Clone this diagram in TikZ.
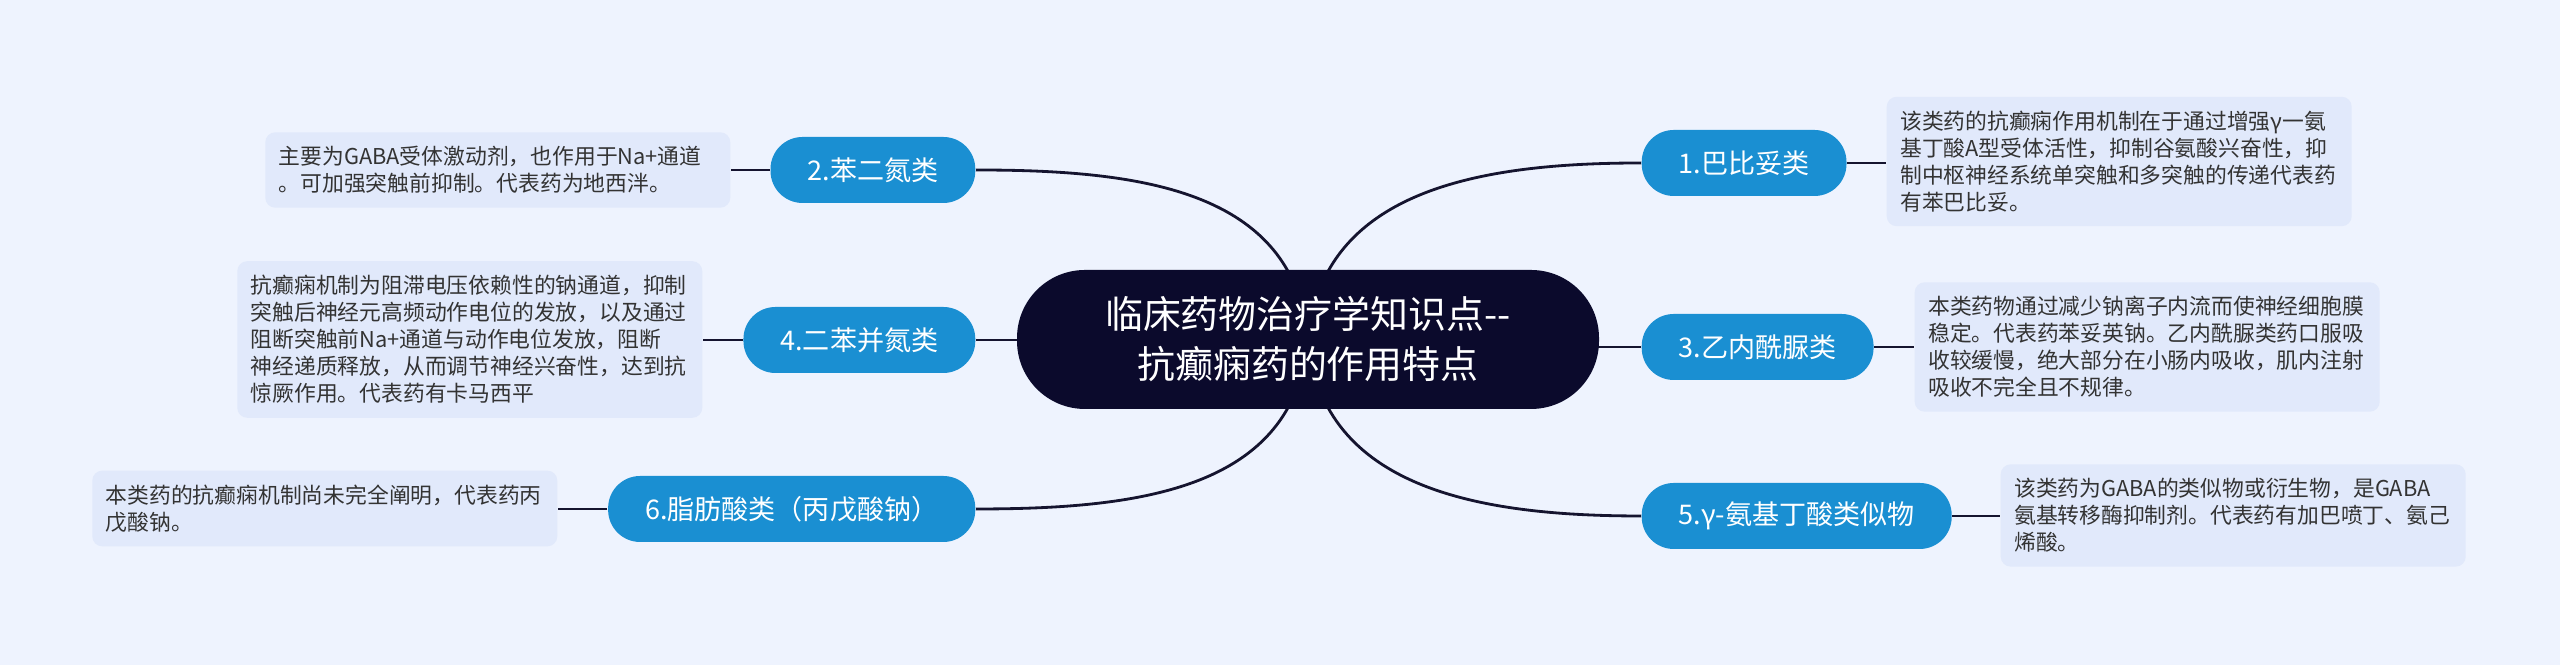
\documentclass[tikz,border=0pt]{standalone}
\usepackage{fontspec}
\setmainfont{Noto Sans CJK SC}
\definecolor{bgcol}{HTML}{EEF3FE}
\definecolor{notecol}{HTML}{E1E9FB}
\definecolor{topiccol}{HTML}{1A8FD2}
\definecolor{rootcol}{HTML}{0B0A2C}
\definecolor{linecol}{HTML}{15142F}
\definecolor{textcol}{HTML}{333333}
\pgfdeclarelayer{bg}
\pgfdeclarelayer{lines}
\pgfsetlayers{bg,lines,main}

\begin{document}
\begin{tikzpicture}[
        root/.style={fill=rootcol, text=white, rounded corners=0.68cm, minimum width=5.82cm, minimum height=1.39cm, align=center, font=\fontsize{10.8pt}{14.2pt}\selectfont},
        topic/.style={fill=topiccol, text=white, rounded corners=0.32cm, minimum height=0.66cm, inner xsep=0.37cm, font=\fontsize{7.7pt}{9pt}\selectfont},
        note/.style={fill=notecol, text=textcol, rounded corners=0.1cm, text width=4.38cm, inner xsep=0.135cm, inner ysep=0.14cm, align=left, font=\fontsize{6.2pt}{7.7pt}\selectfont},
        link/.style={draw=linecol, line width=0.8pt}
    ]

        \useasboundingbox (0,0) rectangle (25.6,6.65);
        \begin{pgfonlayer}{bg}
            \fill[bgcol] (0,0) rectangle (25.6,6.65);
        \end{pgfonlayer}

        \node[root] (c) at (13.08,3.255) {临床药物治疗学知识点-{}-\\抗癫痫药的作用特点};

        \node[topic, anchor=west] (b1) at (16.41,5.02) {1.巴比妥类};
        \node[topic, anchor=west] (b3) at (16.41,3.18) {3.乙内酰脲类};
        \node[topic, anchor=west] (b5) at (16.41,1.49) {5.γ-氨基丁酸类似物};
        \node[topic, anchor=east] (b2) at (9.76,4.95) {2.苯二氮类};
        \node[topic, anchor=east] (b4) at (9.76,3.25) {4.二苯并氮类};
        \node[topic, anchor=east] (b6) at (9.76,1.56) {6.脂肪酸类（丙戊酸钠）};

        \node[note, anchor=west] (d1) at (18.86,5.035) {该类药的抗癫痫作用机制在于通过增强γ一氨\\基丁酸A型受体活性，抑制谷氨酸兴奋性，抑\\制中枢神经系统单突触和多突触的传递代表药\\有苯巴比妥。};
        \node[note, anchor=west] (d3) at (19.14,3.18) {本类药物通过减少钠离子内流而使神经细胞膜\\稳定。代表药苯妥英钠。乙内酰脲类药口服吸\\收较缓慢，绝大部分在小肠内吸收，肌内注射\\吸收不完全且不规律。};
        \node[note, anchor=west] (d5) at (20.00,1.495) {该类药为GABA的类似物或衍生物，是GABA\\氨基转移酶抑制剂。代表药有加巴喷丁、氨己\\烯酸。};
        \node[note, anchor=east] (d2) at (7.31,4.95) {主要为GABA受体激动剂，也作用于Na+通道\\。可加强突触前抑制。代表药为地西泮。};
        \node[note, anchor=east] (d4) at (7.03,3.255) {抗癫痫机制为阻滞电压依赖性的钠通道，抑制\\突触后神经元高频动作电位的发放，以及通过\\阻断突触前Na+通道与动作电位发放，阻断\\神经递质释放，从而调节神经兴奋性，达到抗\\惊厥作用。代表药有卡马西平};
        \node[note, anchor=east] (d6) at (5.58,1.565) {本类药的抗癫痫机制尚未完全阐明，代表药丙\\戊酸钠。};

        \begin{pgfonlayer}{lines}
            \draw[link] (c.center) .. controls +(0.14,1.5) and +(-1.6,0) .. (b1.west);
            \draw[link] (c.center) .. controls +(0.14,-1.5) and +(-1.6,0) .. (b5.west);
            \draw[link] (c.center) .. controls +(-0.14,1.5) and +(1.64,0) .. (b2.east);
            \draw[link] (c.center) .. controls +(-0.14,-1.5) and +(1.64,0) .. (b6.east);
            \draw[link] (c.center |- b3.west) -- (b3.west);
            \draw[link] (c.center |- b4.east) -- (b4.east);
            \foreach \b/\d in {b1/d1,b3/d3,b5/d5} \draw[link] (\b.east) -- (\b.east -| \d.west);
            \foreach \b/\d in {b2/d2,b4/d4,b6/d6} \draw[link] (\b.west) -- (\b.west -| \d.east);
        \end{pgfonlayer}

    \end{tikzpicture}
\end{document}
